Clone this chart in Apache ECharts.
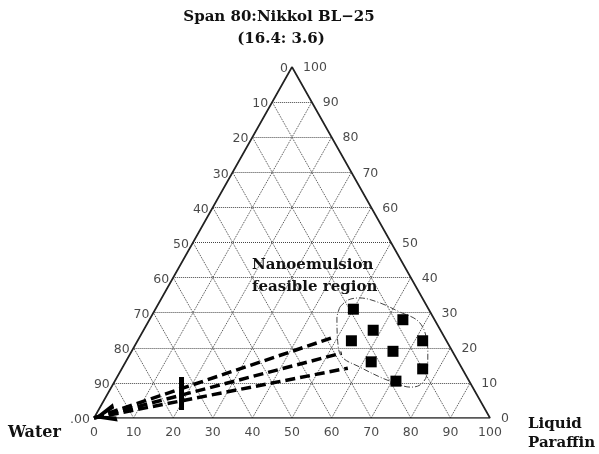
<!DOCTYPE html>
<html><head><meta charset="utf-8">
<script src="https://cdn.jsdelivr.net/npm/echarts@6/dist/echarts.min.js"></script>
<style>html,body{margin:0;padding:0;background:#fff}#c{width:599px;height:454px}</style>
</head><body><div id="c"></div>
<script>
// Ternary axis levels and tick labels
const levels = [0, 10, 20, 30, 40, 50, 60, 70, 80, 90, 100];
const oilTickLabels = ['0', '10', '20', '30', '40', '50', '60', '70', '80', '90', '100'];
const waterTickLabels = ['0', '10', '20', '30', '40', '50', '60', '70', '80', '90', '.00'];
const surfactantTickLabels = ['0', '10', '20', '30', '40', '50', '60', '70', '80', '90', '100'];

// Nanoemulsion formulations (surfactant %, oil %)
const feasibleSurfactant = [31, 28, 25, 22, 22, 19, 16, 14, 10.5];
const feasibleOil = [50, 64, 58, 54, 72, 66, 62, 76, 71];

// Feasible region outline (surfactant %, oil %)
const regionSurfactant = [31.6, 33.6, 34.2, 32.8, 30.2, 27.9, 24.5, 18.8, 12.3, 9.4, 8.8, 10.0, 11.7, 14.5, 17.4, 21.7, 28.5, 31.6];
const regionOil = [46.3, 47.3, 50.0, 55.8, 62.1, 67.6, 71.3, 74.9, 77.9, 77.6, 75.4, 71.0, 66.3, 59.9, 53.9, 50.7, 47.1, 46.3];

// Water dilution lines: end points (surfactant %, oil %), start at water vertex
const dilutionEndSurfactant = [22.8, 18.5, 14.2];
const dilutionEndOil = [48.6, 53.3, 57.0];

// Marker bar across dilution lines
const barSurfactant = [11.7, 2.3];
const barOil = [16.25, 20.95];

// ternary (surfactant, oil) -> cartesian
function xy(s, o) { return [o + s / 2, s]; }

const gridSegs = [];
levels.slice(1, -1).forEach(k => {
  gridSegs.push({ coords: [xy(k, 0), xy(k, 100 - k)] });
  gridSegs.push({ coords: [xy(0, k), xy(100 - k, k)] });
  gridSegs.push({ coords: [xy(0, 100 - k), xy(100 - k, 0)] });
});

const tickFont = { fontFamily: 'DejaVu Sans', fontSize: 12.5, color: '#1a1a1a' };

const leftLabels = levels.map((w, i) => ({ name: waterTickLabels[i], value: xy(100 - w, 0) }));
const rightLabels = levels.map((s, i) => ({ name: surfactantTickLabels[i], value: xy(s, 100 - s) }));
const bottomLabels = levels.map((o, i) => ({ name: oilTickLabels[i], value: xy(0, o) }));

const outline = [xy(0, 0), xy(0, 100), xy(100, 0), xy(0, 0)];

const dilutionSegs = dilutionEndSurfactant.map((s, i) => ({
  coords: [xy(0, 0), xy(s, dilutionEndOil[i])]
}));

function txt(x, y, text, font, align) {
  return { type: 'text', x: x, y: y, silent: true,
    style: { text: text, font: font, fill: '#111', align: align || 'left', verticalAlign: 'middle',
             textAlign: align || 'left', textVerticalAlign: 'middle' } };
}

const option = {
  animation: false,
  backgroundColor: '#fff',
  grid: { left: 94, top: 67, width: 396, height: 351 },
  xAxis: { type: 'value', min: 0, max: 100, show: false },
  yAxis: { type: 'value', min: 0, max: 100, show: false },
  graphic: [
    txt(279, 17, 'Span 80:Nikkol BL\u221225', 'bold 15px "DejaVu Serif"', 'center'),
    txt(281, 39, '(16.4: 3.6)', 'bold 15px "DejaVu Serif"', 'center'),
    txt(252, 265, 'Nanoemulsion', 'bold 15px "DejaVu Serif"'),
    txt(252, 287, 'feasible region', 'bold 15px "DejaVu Serif"'),
    txt(8, 433, 'Water', 'bold 16px "DejaVu Serif"'),
    txt(528, 424, 'Liquid', 'bold 15px "DejaVu Serif"'),
    txt(528, 443, 'Paraffin', 'bold 15px "DejaVu Serif"')
  ],
  series: [
    {
      type: 'lines', coordinateSystem: 'cartesian2d', silent: true, z: 1,
      lineStyle: { color: '#444', width: 1, type: 'dotted', opacity: 1 },
      data: gridSegs
    },
    {
      type: 'line', data: outline, symbol: 'none', silent: true, z: 3,
      lineStyle: { color: '#222', width: 1.7 }
    },
    {
      type: 'line', smooth: 0.35, symbol: 'none', silent: true, z: 4,
      data: regionSurfactant.map((s, i) => xy(s, regionOil[i])),
      lineStyle: { color: '#444', width: 1, type: [6, 2, 1, 2] }
    },
    {
      type: 'lines', coordinateSystem: 'cartesian2d', silent: true, z: 5,
      lineStyle: { color: '#000', width: 3.5, type: [10, 5], opacity: 1 },
      data: dilutionSegs
    },
    {
      type: 'line', symbol: 'none', silent: true, z: 6,
      data: barSurfactant.map((s, i) => xy(s, barOil[i])),
      lineStyle: { color: '#000', width: 5 }
    },
    {
      type: 'scatter', symbol: 'rect', symbolSize: 11, z: 7, silent: true,
      itemStyle: { color: '#000', opacity: 1 },
      data: feasibleSurfactant.map((s, i) => xy(s, feasibleOil[i]))
    },
    {
      type: 'scatter', symbolSize: 0, silent: true, z: 8,
      label: Object.assign({ show: true, position: 'left', distance: 4, offset: [0, 2], formatter: '{b}' }, tickFont),
      data: leftLabels
    },
    {
      type: 'scatter', symbolSize: 0, silent: true, z: 8,
      label: Object.assign({ show: true, position: 'right', distance: 11, offset: [0, 1], formatter: '{b}' }, tickFont),
      data: rightLabels
    },
    {
      type: 'scatter', symbolSize: 0, silent: true, z: 8,
      label: Object.assign({ show: true, position: 'bottom', distance: 8, formatter: '{b}' }, tickFont),
      data: bottomLabels
    }
  ]
};

const chart = echarts.init(document.getElementById('c'), null, { renderer: 'canvas' });
chart.setOption(option);

// Arrowhead at the water vertex, aligned with the middle dilution line (pixel-space angle)
const p0 = chart.convertToPixel({ gridIndex: 0 }, xy(0, 0));
const p1 = chart.convertToPixel({ gridIndex: 0 }, xy(dilutionEndSurfactant[1], dilutionEndOil[1]));
const theta = Math.atan2(p0[1] - p1[1], p1[0] - p0[0]);
const half = 11;
chart.setOption({
  series: option.series.concat([{
    type: 'scatter', silent: true, z: 9,
    symbol: 'path://M0,10 L22,1 L22,6 L9,10 L22,14 L22,19 Z',
    symbolSize: [22, 19],
    symbolRotate: theta * 180 / Math.PI,
    symbolOffset: [half * Math.cos(theta), -half * Math.sin(theta)],
    itemStyle: { color: '#000', opacity: 1 },
    data: [xy(0, 0)]
  }])
});
</script>
</body></html>
